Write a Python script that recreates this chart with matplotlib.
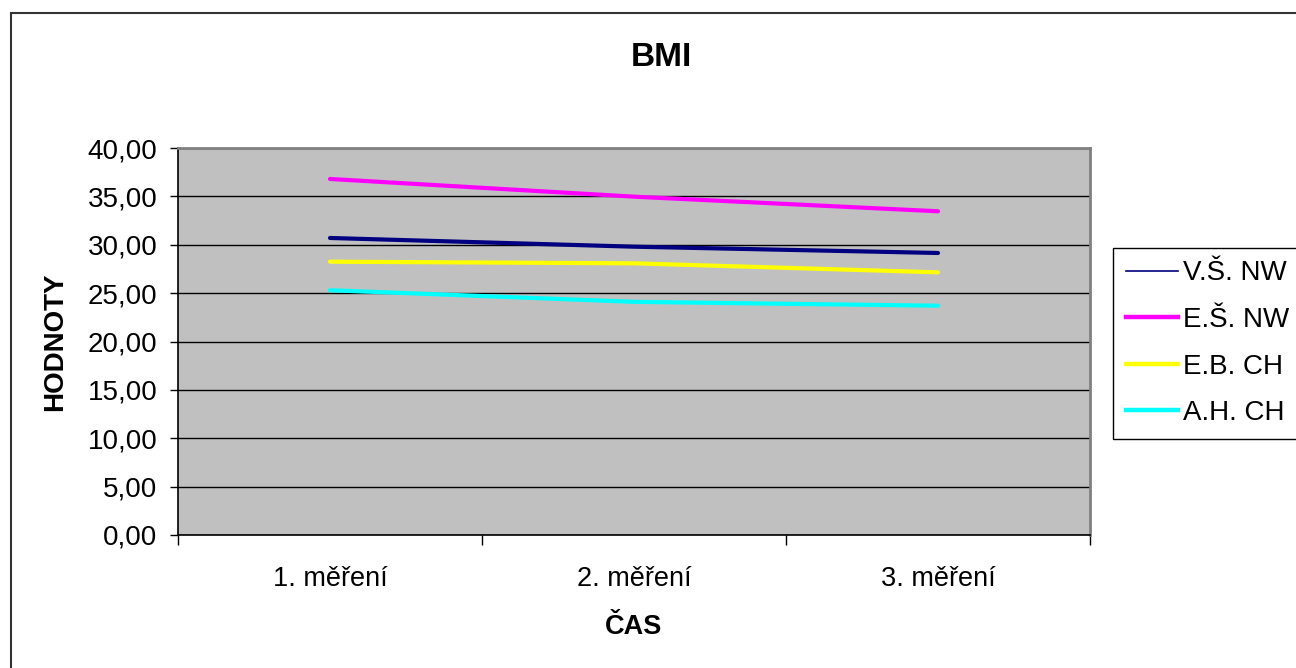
import matplotlib
matplotlib.use('Agg')
import matplotlib.pyplot as plt
from matplotlib.lines import Line2D
from matplotlib.patches import Rectangle

plt.rcParams['font.family'] = ['Liberation Sans', 'DejaVu Sans']

# ------ Data ------
categories = ['1. měření', '2. měření', '3. měření']
series_names = ['V.Š. NW', 'E.Š. NW', 'E.B. CH', 'A.H. CH']
vs_nw = [30.70, 29.80, 29.15]
es_nw = [36.80, 34.97, 33.46]
eb_ch = [28.25, 28.08, 27.15]
ah_ch = [25.30, 24.10, 23.70]
y_ticks = [0, 5, 10, 15, 20, 25, 30, 35, 40]

colors = ['#000080', '#FF00FF', '#FFFF00', '#00FFFF']

# ------ Figure ------
fig = plt.figure(figsize=(12.96, 6.68), dpi=100)
ax = fig.add_axes([178 / 1296, 1 - 535 / 668, (1090 - 178) / 1296, (535 - 148) / 668])
ax.set_facecolor('#C0C0C0')

x = range(len(categories))
for vals, col in zip([vs_nw, es_nw, eb_ch, ah_ch], colors):
    ax.plot(x, vals, color=col, lw=3.0, solid_capstyle='round', zorder=3)

ax.set_xlim(-0.5, 2.5)
ax.set_ylim(0, 40)
ax.set_yticks(y_ticks)
ax.yaxis.set_major_formatter(matplotlib.ticker.FuncFormatter(lambda v, p: ('%.2f' % v).replace('.', ',')))
ax.set_xticks(list(x))
ax.set_xticklabels(categories)
ax.set_xticks([-0.5, 0.5, 1.5, 2.5], minor=True)
ax.tick_params(axis='x', which='major', length=0, pad=22, labelsize=19.5)
ax.tick_params(axis='x', which='minor', length=7, width=1, color='black', direction='out')
ax.tick_params(axis='y', length=6, width=1, color='black', pad=9, labelsize=20)

ax.set_axisbelow(True)
ax.yaxis.grid(True, color='black', lw=1)

ax.spines['left'].set_color('black')
ax.spines['bottom'].set_color('black')
ax.spines['left'].set_linewidth(1.2)
ax.spines['bottom'].set_linewidth(1.2)
ax.spines['top'].set_color('#808080')
ax.spines['right'].set_color('#808080')
ax.spines['top'].set_linewidth(2)
ax.spines['right'].set_linewidth(2)

ax.set_xlabel('ČAS', fontsize=19.5, fontweight='bold', labelpad=16)
ax.set_ylabel('HODNOTY', fontsize=20, fontweight='bold', labelpad=14)

fig.text(0.51, 1 - 58 / 668, 'BMI', fontsize=24, fontweight='bold', ha='center', va='center')

# legend (thin line for the first series)
handles = [Line2D([], [], color=colors[0], lw=1.2)]
handles += [Line2D([], [], color=c, lw=3.2) for c in colors[1:]]
leg = fig.legend(handles, series_names, loc='upper left',
                 bbox_to_anchor=(1113 / 1296, 1 - 248 / 668), fontsize=20,
                 frameon=True, fancybox=False, framealpha=1, edgecolor='black',
                 handlelength=1.9, handletextpad=0.18, labelspacing=0.74,
                 borderpad=0.45, borderaxespad=0)
leg.get_frame().set_linewidth(1)

# outer chart border
fig.patches.append(Rectangle((11 / 1296, -0.1), 1.2, 1.1 - 13 / 668, transform=fig.transFigure,
                             fill=False, edgecolor='#333333', lw=1.5))

fig.savefig('out.png', dpi=100)
